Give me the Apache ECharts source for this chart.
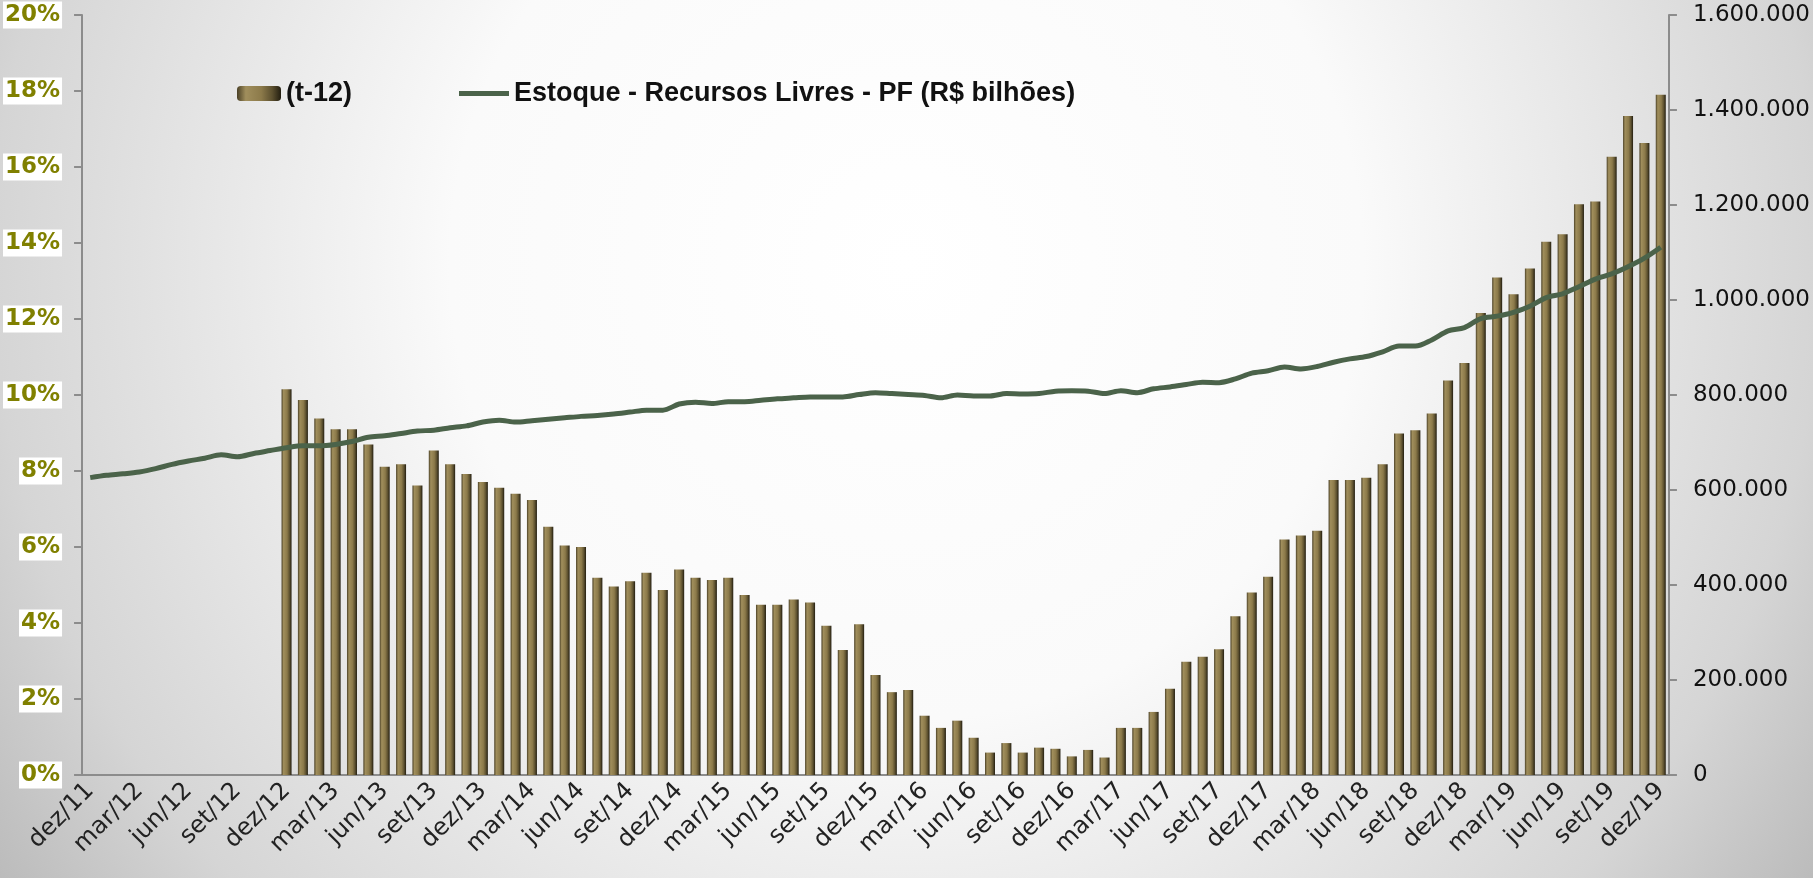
<!DOCTYPE html>
<html>
<head>
<meta charset="utf-8">
<title>Recursos Livres PF</title>
<script src="https://cdn.jsdelivr.net/npm/echarts@6/dist/echarts.min.js"></script>
<style>
  html, body { margin: 0; padding: 0; }
  #chart { width: 1813px; height: 878px; }
</style>
</head>
<body>
<div id="chart"></div>
<script>
// months dez/11 .. dez/19
const monthNames = ['jan', 'fev', 'mar', 'abr', 'mai', 'jun', 'jul', 'ago', 'set', 'out', 'nov', 'dez'];
const categories = ['dez/11'];
for (let y = 12; y <= 19; y++) {
  monthNames.forEach(m => categories.push(m + '/' + y));
}

// variacao (t-12) em %, de dez/12 a dez/19
const growth = [
  10.15, 9.87, 9.38, 9.10, 9.10, 8.70, 8.11, 8.18, 7.62, 8.54, 8.18, 7.92,
  7.71, 7.56, 7.40, 7.24, 6.53, 6.04, 6.00, 5.19, 4.96, 5.10, 5.32, 4.87,
  5.41, 5.19, 5.13, 5.19, 4.74, 4.48, 4.48, 4.62, 4.54, 3.93, 3.29, 3.97,
  2.63, 2.18, 2.24, 1.56, 1.24, 1.43, 0.98, 0.59, 0.84, 0.59, 0.72, 0.69,
  0.49, 0.66, 0.46, 1.24, 1.24, 1.66, 2.27, 2.98, 3.11, 3.31, 4.18, 4.80,
  5.22, 6.20, 6.30, 6.43, 7.76, 7.76, 7.82, 8.18, 8.99, 9.07, 9.51, 10.38,
  10.84, 12.16, 13.09, 12.65, 13.33, 14.03, 14.23, 15.02, 15.09, 16.27, 17.34, 16.63,
  17.90
];
const growthPadded = new Array(categories.length - growth.length).fill('-').concat(growth);

// estoque (milhares), de dez/11 a dez/19
const stock = [
  626, 631, 634, 638, 645, 654, 661, 667, 674, 670, 677, 683,
  689, 693, 693, 696, 702, 711, 714, 719, 724, 726, 731, 735,
  743, 747, 743, 746, 749, 752, 755, 757, 760, 764, 768, 768,
  781, 785, 782, 786, 786, 789, 792, 794, 796, 796, 796, 801,
  805, 803, 801, 799, 794, 800, 798, 798, 803, 802, 803, 808,
  809, 808, 803, 809, 805, 813, 817, 822, 827, 826, 834, 846,
  851, 859, 855, 860, 869, 876, 881, 891, 903, 903, 916, 935,
  942, 961, 966, 974, 987, 1005, 1013, 1028, 1044, 1055, 1070, 1088,
  1111
].map(v => v * 1000);

const leftTicks = { min: 0, max: 20, interval: 2 };
const rightTicks = { min: 0, max: 1600000, interval: 200000 };

const barName = '(t-12)';
const lineName = 'Estoque - Recursos Livres - PF (R$ bilhões)';

const barColor = {
  type: 'linear', x: 0, y: 0, x2: 1, y2: 0,
  colorStops: [
    { offset: 0, color: '#4a4026' },
    { offset: 0.2, color: '#a08e5c' },
    { offset: 0.55, color: '#8c7a4a' },
    { offset: 0.8, color: '#5c502f' },
    { offset: 1, color: '#221d10' }
  ]
};
const lineColor = '#4b634a';

const fmtThousands = v => String(v).replace(/\B(?=(\d{3})+(?!\d))/g, '.');

const chart = echarts.init(document.getElementById('chart'));
chart.setOption({
  animation: false,
  backgroundColor: {
    type: 'radial', x: 0.5, y: 0.3, r: 1.3,
    colorStops: [
      { offset: 0, color: '#ffffff' },
      { offset: 0.4, color: '#fafafa' },
      { offset: 0.8, color: '#d5d5d5' },
      { offset: 1, color: '#b5b5b5' }
    ]
  },
  textStyle: { fontFamily: 'DejaVu Sans' },
  grid: { left: 75, right: 139, top: 15, bottom: 103, containLabel: false },
  legend: [
    {
      data: [barName], left: 237, top: 80, padding: 0,
      itemWidth: 44, itemHeight: 15, itemGap: 4,
      textStyle: { fontFamily: 'Liberation Sans', fontWeight: 'bold', fontSize: 27, color: '#111' }
    },
    {
      data: [{ name: lineName, icon: 'rect' }], left: 459, top: 80, padding: 0,
      itemWidth: 50, itemHeight: 5, itemGap: 4,
      itemStyle: { color: lineColor },
      textStyle: { fontFamily: 'Liberation Sans', fontWeight: 'bold', fontSize: 27, color: '#111' }
    }
  ],
  xAxis: {
    type: 'category',
    data: categories,
    boundaryGap: true,
    axisLine: { lineStyle: { color: '#8c8c8c', width: 2 } },
    axisTick: { show: false },
    axisLabel: {
      interval: 2, rotate: 45, margin: 12,
      fontSize: 24, color: '#222'
    }
  },
  yAxis: [
    {
      type: 'value', min: leftTicks.min, max: leftTicks.max, interval: leftTicks.interval,
      splitLine: { show: false },
      axisLine: { show: true, lineStyle: { color: '#8c8c8c', width: 2 } },
      axisTick: { show: true, length: 8, lineStyle: { color: '#8c8c8c', width: 2 } },
      axisLabel: {
        formatter: '{value}%', margin: 20,
        fontSize: 23, fontWeight: 'bold', color: '#808000',
        backgroundColor: '#ffffff', padding: [3, 2, 1, 2]
      }
    },
    {
      type: 'value', min: rightTicks.min, max: rightTicks.max, interval: rightTicks.interval,
      splitLine: { show: false },
      axisLine: { show: true, lineStyle: { color: '#8c8c8c', width: 2 } },
      axisTick: { show: true, length: 8, lineStyle: { color: '#8c8c8c', width: 2 } },
      axisLabel: {
        formatter: fmtThousands, margin: 24,
        fontSize: 23, color: '#111'
      }
    }
  ],
  series: [
    {
      name: barName, type: 'bar', yAxisIndex: 0,
      data: growthPadded, barWidth: 10,
      itemStyle: { color: barColor }
    },
    {
      name: lineName, type: 'line', yAxisIndex: 1,
      data: stock, smooth: 0.3, symbol: 'none', z: 5,
      lineStyle: { color: lineColor, width: 5 },
      itemStyle: { color: lineColor }
    }
  ]
});
</script>
</body>
</html>
